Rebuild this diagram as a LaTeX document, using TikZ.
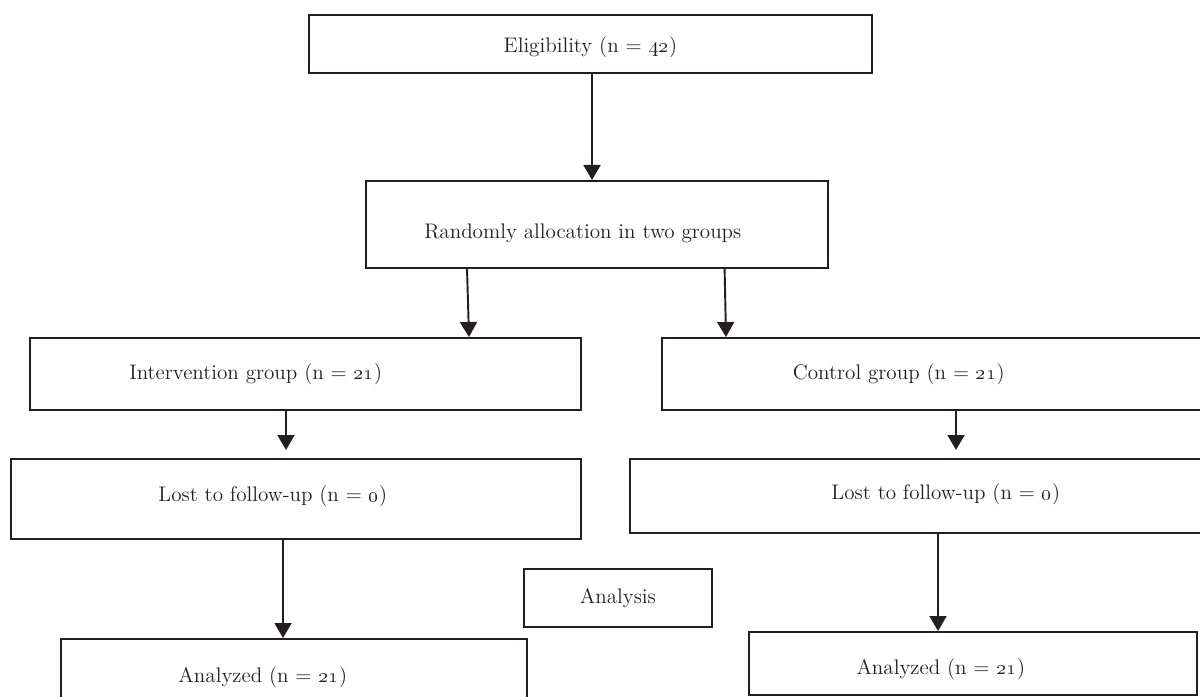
\documentclass[tikz,border=0pt]{standalone}
\usepackage{tikz}
\usetikzlibrary{arrows.meta}

\definecolor{ink}{HTML}{231F20}
\tikzset{
  box/.style={draw=ink, line width=0.9pt, rectangle, anchor=north west, inner sep=0pt},
  arr/.style={draw=ink, line width=1.1pt, -{Triangle[length=3mm, width=3.4mm]}},
}

\begin{document}
\begin{tikzpicture}[x=0.2mm, y=-0.2mm, font=\fontsize{12}{14}\selectfont, text=ink]

	\clip (0,0) rectangle (1200,697);

	% enrolment
	\node[box, line width=1.1pt, minimum width=112.6mm, minimum height=11.6mm,
	      label={[yshift=-0.6mm]center:Eligibility (n = \oldstylenums{42})}] (elig) at (308,14) {};
	\node[box, minimum width=92.4mm, minimum height=17.4mm,
	      label={[xshift=-2.8mm, yshift=-1.9mm]center:Randomly allocation in two groups}] (alloc) at (365,180) {};

	% allocation
	\node[box, minimum width=110.2mm, minimum height=14.4mm,
	      label={[xshift=-9.9mm]center:Intervention group (n = \oldstylenums{21})}] (interv) at (29,337) {};
	\node[box, minimum width=113.8mm, minimum height=14.4mm,
	      label={[xshift=-9.5mm]center:Control group (n = \oldstylenums{21})}] (ctrl) at (661,337) {};

	% follow-up
	\node[box, minimum width=114mm, minimum height=16mm,
	      label={[xshift=-4.6mm, yshift=0.6mm]center:Lost to follow-up (n = \oldstylenums{0})}] (lostl) at (10,458) {};
	\node[box, minimum width=120.2mm, minimum height=14.8mm,
	      label={[xshift=3.1mm, yshift=0.4mm]center:Lost to follow-up (n = \oldstylenums{0})}] (lostr) at (629,458) {};

	% analysis
	\node[box, minimum width=37.6mm, minimum height=11.6mm,
	      label={center:Analysis}] (anal) at (523,568) {};
	\node[box, minimum width=93.2mm, minimum height=16.4mm,
	      label={[xshift=-6.2mm, yshift=0.6mm]center:Analyzed (n = \oldstylenums{21})}] (anl) at (60,638) {};
	\node[box, minimum width=89.6mm, minimum height=12.6mm,
	      label={[xshift=-6.4mm, yshift=-1.1mm]center:Analyzed (n = \oldstylenums{21})}] (anr) at (748,631) {};

	\draw[arr] ([xshift=56.8mm]elig.south west) -- ([xshift=45.4mm]alloc.north west);
	\draw[arr] ([xshift=20.4mm]alloc.south west) -- ([xshift=88mm]interv.north west);
	\draw[arr] ([xshift=-20.8mm]alloc.south east) -- ([xshift=13mm]ctrl.north west);
	\draw[arr, shorten >=1.6mm] ([xshift=51.4mm]interv.south west) -- ([xshift=55.2mm]lostl.north west);
	\draw[arr, shorten >=1.6mm] ([xshift=59mm]ctrl.south west) -- ([xshift=65.4mm]lostr.north west);
	\draw[arr] ([xshift=54.6mm]lostl.south west) -- ([xshift=44.6mm]anl.north west);
	\draw[arr] ([xshift=61.8mm]lostr.south west) -- ([xshift=38mm]anr.north west);

\end{tikzpicture}
\end{document}
